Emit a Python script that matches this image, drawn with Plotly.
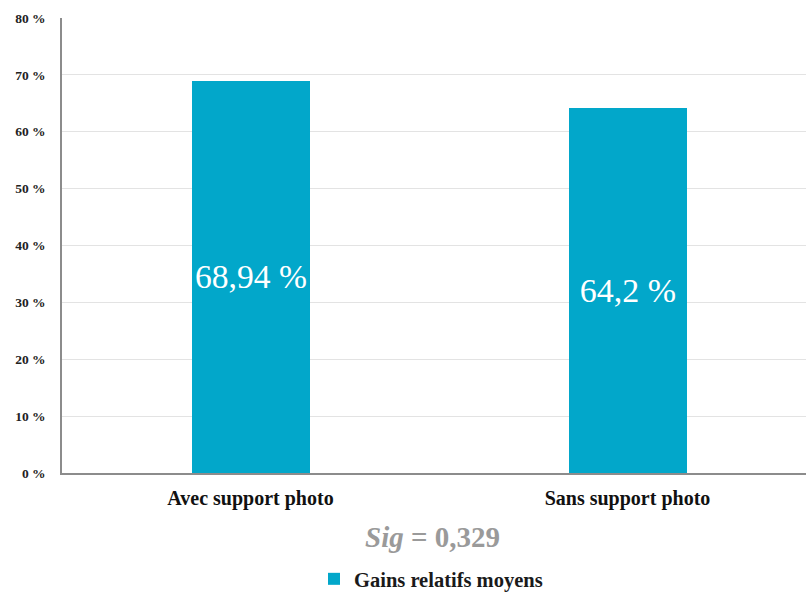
import plotly.graph_objects as go

categories = ["Avec support photo", "Sans support photo"]
gains = [68.94, 64.2]
value_labels = ["68,94 %", "64,2 %"]
y_ticks = [0, 10, 20, 30, 40, 50, 60, 70, 80]
y_tick_labels = [f"{v} %" for v in y_ticks]
series_name = "Gains relatifs moyens"

SERIF = "Liberation Serif"
BAR_COLOR = "#02a7ca"
x_pos = list(range(len(categories)))

fig = go.Figure()
fig.add_trace(go.Bar(
    x=x_pos, y=gains, name=f"<b>{series_name}</b>", width=0.313,
    marker=dict(color=BAR_COLOR, line=dict(width=0)),
    text=value_labels, textposition="inside", insidetextanchor="middle", textangle=0,
    textfont=dict(family=SERIF, size=34, color="white"),
))

fig.update_layout(
    width=806, height=594,
    margin=dict(l=62, r=0, t=18, b=121, autoexpand=False),
    paper_bgcolor="white", plot_bgcolor="white",
    font=dict(family=SERIF, color="#222"),
    bargap=0, showlegend=True,
    legend=dict(orientation="h", xanchor="left", x=(314 - 62) / 744,
                yanchor="middle", y=-(579 - 473) / 455,
                font=dict(family=SERIF, size=20.5, color="#1a1a1a"), itemwidth=30),
    xaxis=dict(range=[-0.5, -0.5 + 744 / 377], tickmode="array", tickvals=x_pos,
               ticktext=[f"<b>{c}</b>" for c in categories],
               tickfont=dict(family=SERIF, size=20, color="#111"),
               showgrid=False, showline=True, linecolor="#8c8c8c", linewidth=1.5,
               ticks="", ticklabelstandoff=6, zeroline=False, automargin=False),
    yaxis=dict(range=[0, 80], tickmode="array", tickvals=y_ticks,
               ticktext=[f"<b>{t}</b>" for t in y_tick_labels],
               tickfont=dict(family=SERIF, size=13.5, color="#222"),
               showgrid=True, gridcolor="#e3e3e3", showline=True, linecolor="#8c8c8c", linewidth=1.5,
               ticks="", ticklabelstandoff=12, zeroline=False, automargin=False),
    annotations=[dict(text="<b><i>Sig</i> = 0,329</b>", xref="paper", yref="paper",
                      x=(432 - 62) / 744, y=-(537 - 473) / 455, xanchor="center", yanchor="middle",
                      showarrow=False, font=dict(family=SERIF, size=29, color="#9a9a9a"))],
)

fig.write_html("out.html")
